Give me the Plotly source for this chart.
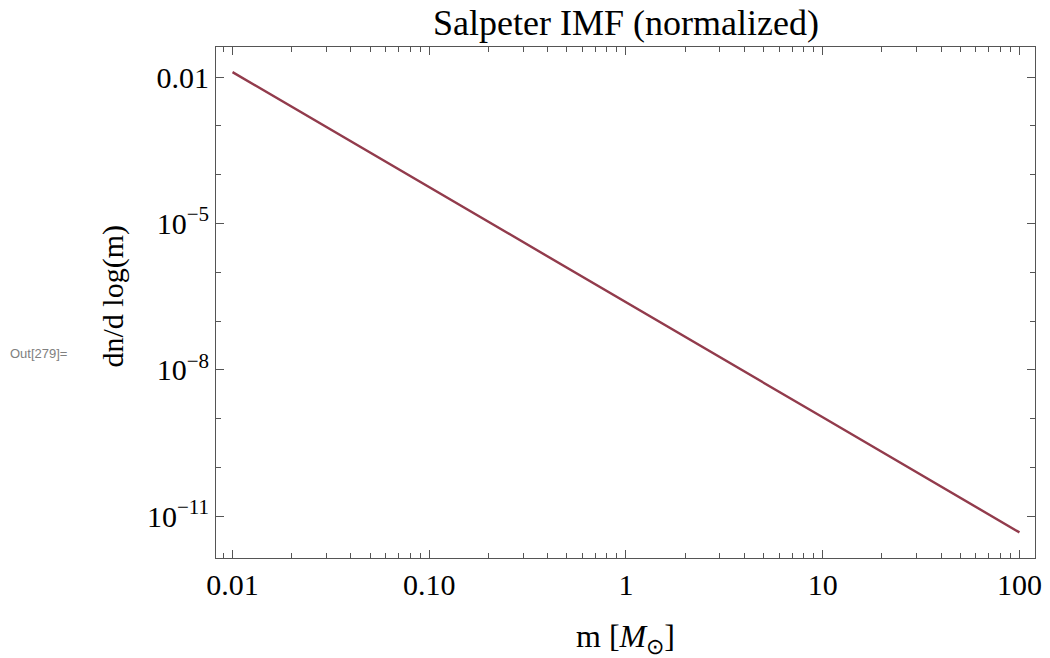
import plotly.graph_objects as go

# data
mass = [0.01, 0.1, 1, 10, 100]
dn_dlogm = [1.26e-2, 5.6e-5, 2.44e-7, 1.07e-9, 4.7e-12]

x_tickvals = [0.01, 0.1, 1, 10, 100]
x_ticktext = ["0.01", "0.10", "1", "10", "100"]
y_tickvals = [1e-2, 1e-5, 1e-8, 1e-11]
y_ticktext = ["0.01", "10<sup>−5</sup>", "10<sup>−8</sup>", "10<sup>−11</sup>"]

x_minor = [0.009] + [k * d for d in (0.01, 0.1, 1, 10) for k in range(2, 10)]
y_minor = [1e-3, 1e-4, 1e-6, 1e-7, 1e-9, 1e-10]

serif = "Liberation Serif, Times New Roman, serif"
axis_color = "#555555"

fig = go.Figure()
fig.add_trace(go.Scatter(
    x=mass, y=dn_dlogm, mode="lines",
    line=dict(color="#923B4C", width=2.4),
    showlegend=False, hoverinfo="skip",
))

fig.update_layout(
    width=1050, height=658,
    margin=dict(l=216, r=8, t=47, b=100),
    paper_bgcolor="white", plot_bgcolor="white",
    font=dict(family=serif, size=30, color="black"),
    annotations=[
        dict(text="Salpeter IMF (normalized)", xref="paper", yref="paper",
             x=0.5, y=1.0, yshift=24, showarrow=False, xanchor="center",
             yanchor="middle", font=dict(family=serif, size=36, color="black")),
        dict(text="m [<i>M</i><sub>⊙</sub>]", xref="paper", yref="paper",
             x=0.5, y=0, yshift=-80, showarrow=False, xanchor="center",
             yanchor="middle", font=dict(family=serif, size=32, color="black")),
        dict(text="dn/d log(m)", xref="paper", yref="paper",
             x=0, xshift=-104, y=0.5, yshift=6, showarrow=False, textangle=-90,
             xanchor="center", yanchor="middle",
             font=dict(family=serif, size=30, color="black")),
        dict(text="Out[279]=", xref="paper", yref="paper",
             x=0, xshift=-178, y=0.5, yshift=-51, showarrow=False,
             xanchor="center", yanchor="middle",
             font=dict(family="Liberation Sans, Arial, sans-serif", size=13, color="#808080")),
    ],
)

fig.update_xaxes(
    type="log", range=[-2.084, 2.079],
    tickvals=x_tickvals, ticktext=x_ticktext,
    ticks="inside", ticklen=8, tickwidth=1, tickcolor=axis_color,
    showline=True, linecolor=axis_color, linewidth=1, mirror="ticks",
    showgrid=False, zeroline=False,
    tickfont=dict(family=serif, size=30, color="black"),
    minor=dict(tickvals=x_minor, ticks="inside", ticklen=5, tickwidth=1,
               tickcolor=axis_color, showgrid=False),
)
fig.update_yaxes(
    type="log", range=[-11.852, -1.3855],
    tickvals=y_tickvals, ticktext=y_ticktext,
    ticks="inside", ticklen=8, tickwidth=1, tickcolor=axis_color,
    showline=True, linecolor=axis_color, linewidth=1, mirror="ticks",
    showgrid=False, zeroline=False,
    tickfont=dict(family=serif, size=30, color="black"),
    minor=dict(tickvals=y_minor, ticks="inside", ticklen=5, tickwidth=1,
               tickcolor=axis_color, showgrid=False),
)

fig.write_html("out.html", config={"displayModeBar": False},
               post_script="document.body.style.margin='0px';")
